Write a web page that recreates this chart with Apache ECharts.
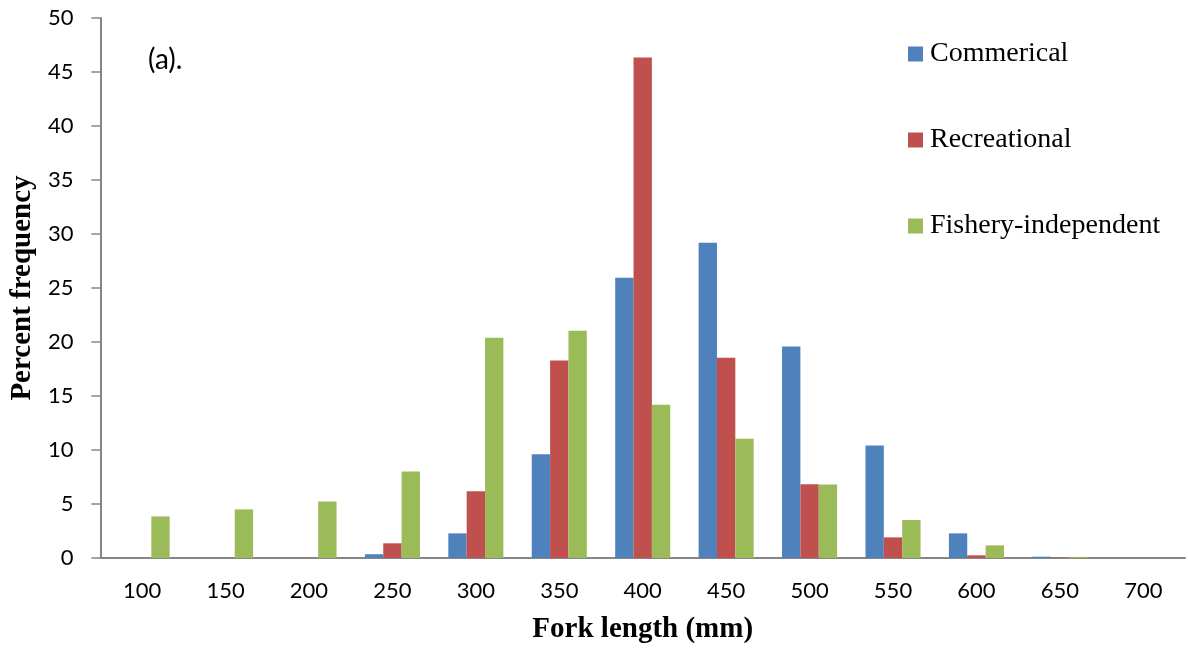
<!DOCTYPE html>
<html>
<head>
<meta charset="utf-8">
<script src="https://cdn.jsdelivr.net/npm/echarts@6/dist/echarts.min.js"></script>
<style>
  html, body { margin: 0; padding: 0; background: #fff; }
  #main { width: 1188px; height: 649px; }
</style>
</head>
<body>
<div id="main"></div>
<script>
// fork length bins (mm)
var lengths = ['100', '150', '200', '250', '300', '350', '400', '450', '500', '550', '600', '650', '700'];
// percent frequency per source
var commercial = [0, 0, 0, 0.35, 2.28, 9.6, 25.95, 29.2, 19.58, 10.42, 2.28, 0.12, 0];
var recreational = [0, 0, 0, 1.36, 6.17, 18.29, 46.35, 18.55, 6.82, 1.91, 0.25, 0.03, 0];
var independent = [3.85, 4.5, 5.22, 8.02, 20.4, 21.05, 14.2, 11.05, 6.8, 3.52, 1.17, 0.1, 0];
var yTicks = { min: 0, max: 50, step: 5 };

var axisGrey = '#868686';
var dom = document.getElementById('main');
var myChart = echarts.init(dom);

function barSeries(name, data, color) {
    return {
        name: name,
        type: 'bar',
        data: data,
        barGap: '0%',
        barCategoryGap: '34%',
        itemStyle: { color: color },
        animation: false
    };
}

var option = {
    backgroundColor: '#fff',
    grid: { left: 100, right: 3, top: 18, bottom: 90 },
    legend: {
        orient: 'vertical',
        left: 903,
        top: 34,
        itemWidth: 15,
        itemHeight: 15,
        itemGap: 56,
        icon: 'rect',
        textStyle: { fontFamily: 'Liberation Serif', fontSize: 28, color: '#000', lineHeight: 30, padding: [0, 0, 0, 2] },
        data: ['Commerical', 'Recreational', 'Fishery-independent']
    },
    graphic: [{
        type: 'text',
        left: 148,
        top: 46,
        style: { text: '(a).', fontFamily: 'Lato', fontSize: 28, fill: '#000' }
    }],
    xAxis: {
        type: 'category',
        data: lengths,
        name: 'Fork length (mm)',
        nameLocation: 'middle',
        nameGap: 57,
        nameTextStyle: { fontFamily: 'Liberation Serif', fontWeight: 'bold', fontSize: 29, color: '#000' },
        axisLine: { lineStyle: { color: axisGrey, width: 2 } },
        axisTick: { length: 9, lineStyle: { color: axisGrey, width: 1.5 } },
        axisLabel: { fontFamily: 'Lato', fontSize: 22, color: '#000', margin: 22 }
    },
    yAxis: {
        type: 'value',
        min: yTicks.min,
        max: yTicks.max,
        interval: yTicks.step,
        name: 'Percent frequency',
        nameLocation: 'middle',
        nameGap: 60,
        nameRotate: 90,
        nameTextStyle: { fontFamily: 'Liberation Serif', fontWeight: 'bold', fontSize: 29, color: '#000' },
        splitLine: { show: false },
        axisLine: { show: true, lineStyle: { color: axisGrey, width: 2 } },
        axisTick: { show: true, length: 9, lineStyle: { color: axisGrey, width: 1.5 } },
        axisLabel: { fontFamily: 'Lato', fontSize: 22, color: '#000', margin: 27 }
    },
    series: [
        barSeries('Commerical', commercial, '#4F81BD'),
        barSeries('Recreational', recreational, '#C0504D'),
        barSeries('Fishery-independent', independent, '#9BBB59')
    ]
};

myChart.setOption(option, true);
</script>
</body>
</html>
